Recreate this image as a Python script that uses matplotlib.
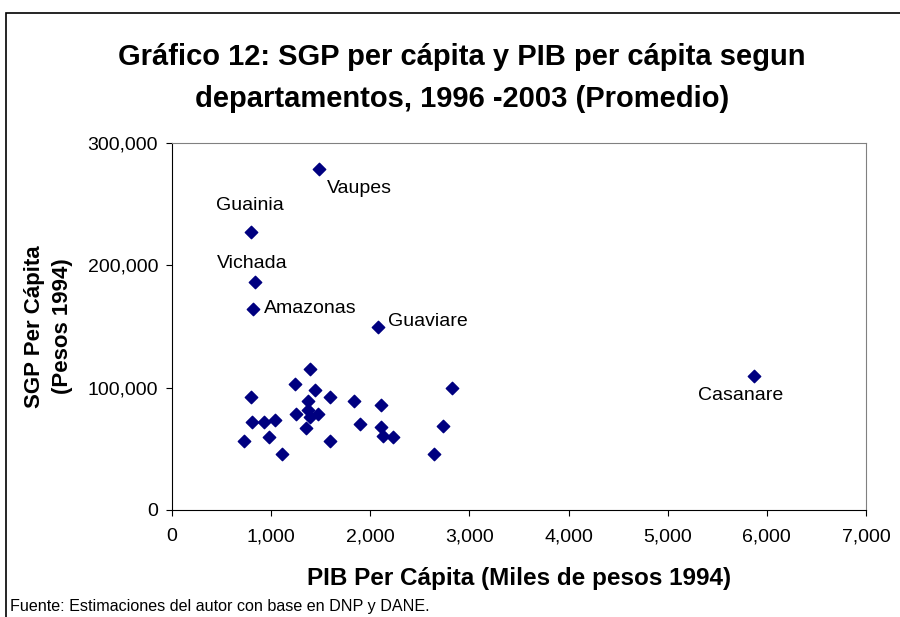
import matplotlib
matplotlib.use("Agg")
import matplotlib.pyplot as plt
from matplotlib.patches import Rectangle
from matplotlib.ticker import FuncFormatter

plt.rcParams['font.family'] = ['Liberation Sans', 'DejaVu Sans']

# PIB per capita (miles de pesos 1994) and SGP per capita (pesos 1994)
pib = [1483, 797, 834, 817, 2079, 5866,
       1389, 1241, 797, 1443, 1597, 1836, 2112, 2825, 1369,
       1251, 1369, 1469, 1389, 1348, 807, 925, 1039, 1893,
       2112, 2129, 2230, 2731, 723, 982, 1597, 1110, 2640]
sgp = [278600, 227000, 186600, 164600, 149400, 109500,
       115300, 103200, 92100, 98300, 92100, 89100, 86100, 100000, 89400,
       78500, 81800, 78500, 76000, 66800, 72200, 72200, 73300, 70600,
       67900, 60800, 59400, 68700, 56700, 59400, 56700, 45500, 45500]
nombres = ['Vaupes', 'Guainia', 'Vichada', 'Amazonas', 'Guaviare', 'Casanare']
# label offsets in points
offs = [(6, -14), (-25, 19), (-27, 13), (8, 0), (7, 4), (-40, -14)]

fig = plt.figure(figsize=(9, 6.17), dpi=100)
fig.patch.set_facecolor('white')
fig.patches.append(Rectangle((6 / 900, -0.1), 1.2, 1 - 13 / 617 + 0.1,
                             transform=fig.transFigure, fill=False,
                             edgecolor='black', linewidth=1.2))

ax = fig.add_axes([172 / 900, 1 - 510 / 617, 694 / 900, 367 / 617])
ax.scatter(pib, sgp, marker='D', s=40, color='#000080', zorder=3)

for i, name in enumerate(nombres):
    ax.annotate(name, (pib[i], sgp[i]), xytext=offs[i], textcoords='offset points',
                ha='left', va='center', fontsize=14)

ax.set_xlim(0, 7000)
ax.set_ylim(0, 300000)
ax.set_xticks(range(0, 7001, 1000))
ax.set_yticks([0, 100000, 200000, 300000])
fmt = FuncFormatter(lambda v, p: f'{int(v):,}')
ax.xaxis.set_major_formatter(fmt)
ax.yaxis.set_major_formatter(fmt)
ax.tick_params(axis='both', labelsize=14, length=4, direction='out', color='black')
ax.tick_params(axis='x', pad=9)
ax.tick_params(axis='y', pad=6)

for s in ['top', 'right']:
    ax.spines[s].set_color('#808080')
for s in ['left', 'bottom']:
    ax.spines[s].set_color('black')

ax.set_xlabel('PIB Per Cápita (Miles de pesos 1994)', fontsize=17.5, fontweight='bold')
ax.xaxis.set_label_coords(0.5, -0.155)
ax.set_ylabel('SGP Per Cápita\n(Pesos 1994)', fontsize=16, fontweight='bold',
              linespacing=1.4)
ax.yaxis.set_label_coords(-0.143, 0.5)

fig.text(0.513, 0.874, 'Gráfico 12: SGP per cápita y PIB per cápita segun\n'
         'departamentos, 1996 -2003 (Promedio)',
         ha='center', va='center', fontsize=21, fontweight='bold', linespacing=1.62)

fig.text(10 / 900, 1 - 607 / 617, 'Fuente: Estimaciones del autor con base en DNP y DANE.',
         ha='left', va='center', fontsize=11.6)

fig.savefig('out.png', dpi=100)
